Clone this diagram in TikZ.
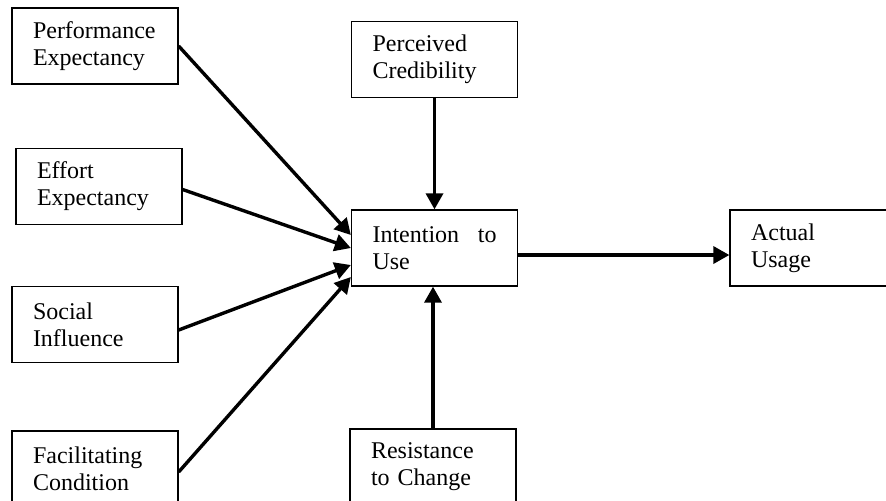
\documentclass[tikz,border=0pt]{standalone}
\usepackage{fontspec}
\setmainfont{Liberation Serif}
\usetikzlibrary{arrows.meta}
\begin{document}
\begin{tikzpicture}[x=0.5pt, y=-0.5pt, >={Triangle[length=8pt,width=8.5pt]},
    box/.style={draw, line width=0.65pt, minimum width=83pt, minimum height=38pt,
      text width=62pt, inner xsep=10.5pt, align=left,
      font=\fontsize{12pt}{13.5pt}\selectfont},
    link/.style={->, line width=1.7pt}]
    \useasboundingbox (0,0) rectangle (886,500);
    \clip (0,0) rectangle (886,500);
    \node[box] (perf) at (95,46) {Performance\\Expectancy};
    \node[box] (effort) at (99,186.5) {Effort\\Expectancy};
    \node[box] (social) at (95,324.5) {Social\\Influence};
    \node[box] (facil) at (95,469) {Facilitating\\Condition};
    \node[box] (cred) at (434.5,59.5) {Perceived\\Credibility};
    \node[box] (intent) at (434.5,248) {\hbox to 62pt{Intention\hfill to}\\Use};
    \node[box] (resist) at (433,467) {Resistance\\to Change};
    \node[box] (actual) at (813,248) {Actual\\Usage};
    \draw[link] (perf.east) -- ([yshift=6.5pt]intent.west);
    \draw[link] ([yshift=-1.5pt]effort.east) -- (intent.west);
    \draw[link] ([yshift=-2.75pt]social.east) -- ([yshift=-8.5pt]intent.west);
    \draw[link] ([yshift=-1.5pt]facil.east) -- ([yshift=-14.5pt]intent.west);
    \draw[link] (cred.south) -- (cred.south |- intent.north);
    \draw[link] (resist.north) -- (resist.north |- intent.south);
    \draw[link] ([yshift=-3.5pt]intent.east) -- ([yshift=-3.5pt]actual.west);
\end{tikzpicture}
\end{document}
